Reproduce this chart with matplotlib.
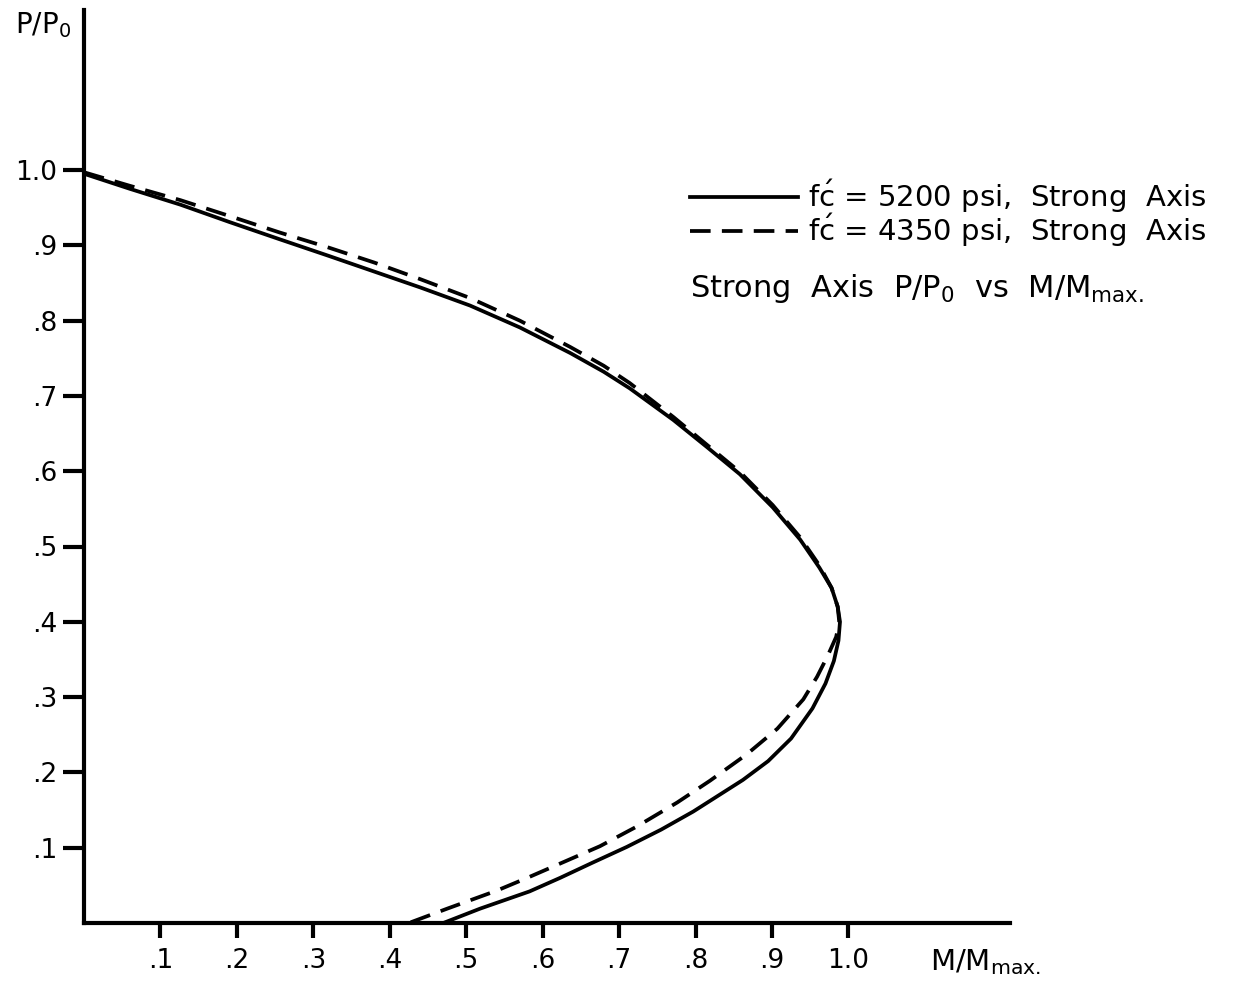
import matplotlib
matplotlib.use("Agg")
import matplotlib.pyplot as plt

plt.rcParams['font.family'] = ['DejaVu Sans']
plt.rcParams['mathtext.fontset'] = 'custom'
plt.rcParams['mathtext.rm'] = 'DejaVu Sans'
plt.rcParams['mathtext.default'] = 'regular'

# Interaction curve, f'c = 5200 psi (M/Mmax, P/Po)
m_5200 = [0.0, 0.06, 0.126, 0.19, 0.256, 0.32, 0.38, 0.44, 0.505, 0.57,
          0.636, 0.68, 0.714, 0.771, 0.815, 0.858, 0.901, 0.937, 0.962, 0.978,
          0.986, 0.989, 0.987, 0.981, 0.970, 0.953, 0.925, 0.895, 0.862, 0.797,
          0.755, 0.710, 0.665, 0.623, 0.583, 0.518, 0.470]
p_5200 = [0.995, 0.975, 0.954, 0.931, 0.908, 0.886, 0.865, 0.844, 0.820, 0.791,
          0.757, 0.732, 0.710, 0.668, 0.632, 0.596, 0.552, 0.509, 0.472, 0.445,
          0.420, 0.400, 0.375, 0.348, 0.318, 0.285, 0.245, 0.215, 0.190, 0.148,
          0.124, 0.101, 0.080, 0.060, 0.042, 0.019, 0.0]

# Interaction curve, f'c = 4350 psi
m_4350 = [0.0, 0.06, 0.126, 0.19, 0.256, 0.32, 0.38, 0.44, 0.505, 0.57,
          0.636, 0.68, 0.714, 0.771, 0.815, 0.858, 0.901, 0.937, 0.962, 0.978,
          0.986, 0.988, 0.984, 0.973, 0.959, 0.941, 0.907, 0.867, 0.819, 0.776,
          0.723, 0.675, 0.623, 0.580, 0.540, 0.475, 0.425]
p_4350 = [0.997, 0.979, 0.960, 0.939, 0.917, 0.897, 0.877, 0.855, 0.830, 0.800,
          0.765, 0.740, 0.717, 0.672, 0.635, 0.599, 0.555, 0.512, 0.475, 0.445,
          0.420, 0.400, 0.380, 0.355, 0.327, 0.297, 0.258, 0.224, 0.189, 0.160,
          0.128, 0.102, 0.079, 0.060, 0.043, 0.019, 0.0]

x_ticks = [0.1, 0.2, 0.3, 0.4, 0.5, 0.6, 0.7, 0.8, 0.9, 1.0]
x_labels = ['.1', '.2', '.3', '.4', '.5', '.6', '.7', '.8', '.9', '1.0']
y_ticks = [0.1, 0.2, 0.3, 0.4, 0.5, 0.6, 0.7, 0.8, 0.9, 1.0]
y_labels = ['.1', '.2', '.3', '.4', '.5', '.6', '.7', '.8', '.9', '1.0']

W, H = 1257, 981
fig = plt.figure(figsize=(W / 100, H / 100), dpi=100)
ax = fig.add_axes([84 / W, 58 / H, (1010 - 84) / W, (923 - 10) / H])

lw = 2.7
ax.plot(m_5200, p_5200, color='black', lw=lw, solid_joinstyle='round',
        label=r"f$\acute{c}$ = 5200 psi,  Strong  Axis")
ax.plot(m_4350, p_4350, color='black', lw=lw, dashes=(5.5, 3),
        label=r"f$\acute{c}$ = 4350 psi,  Strong  Axis")

ax.set_xlim(0, 926 / 764.4)
ax.set_ylim(0, 913 / 753)

for side in ['top', 'right']:
    ax.spines[side].set_visible(False)
for side in ['left', 'bottom']:
    ax.spines[side].set_linewidth(3)

ax.set_xticks(x_ticks)
ax.set_xticklabels(x_labels)
ax.set_yticks(y_ticks)
ax.set_yticklabels(y_labels)
ax.tick_params(axis='x', length=11, width=3, pad=7, labelsize=19)
ax.tick_params(axis='y', length=15, width=3, pad=4, labelsize=19)

fig.text(15 / W, 1 - 33 / H, "P/P$_0$", fontsize=20, ha='left', va='baseline')
fig.text(930 / W, 1 - 970 / H, "M/M$_{max.}$", fontsize=21, ha='left', va='baseline')

leg = ax.legend(loc='upper left', bbox_to_anchor=(690 / W, 1 - 178 / H),
                bbox_transform=fig.transFigure, frameon=False, fontsize=21,
                handlelength=3.7, handletextpad=0.35, labelspacing=-0.1,
                borderpad=0, borderaxespad=0)

fig.text(690 / W, 1 - 297 / H, "Strong  Axis  P/P$_0$  vs  M/M$_{max.}$",
         fontsize=22, ha='left', va='baseline')

fig.savefig("out.png", dpi=100)
